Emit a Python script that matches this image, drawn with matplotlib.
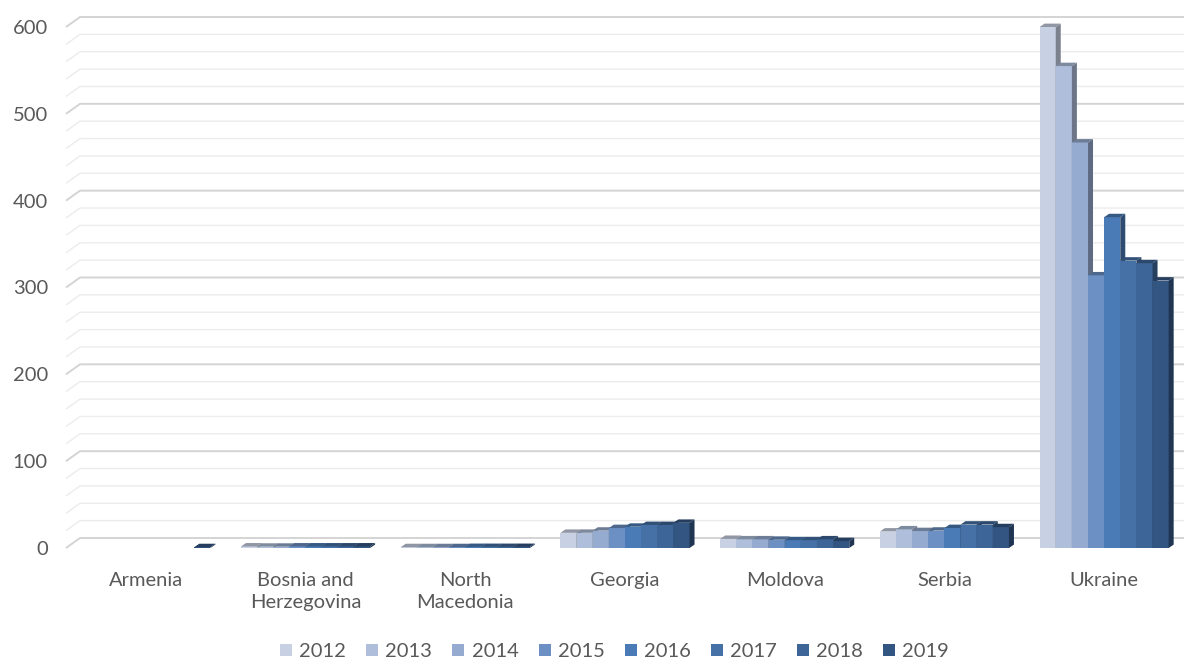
import matplotlib
matplotlib.use("Agg")
import matplotlib.pyplot as plt
from matplotlib.patches import Polygon, Rectangle
import matplotlib.colors as mcolors

plt.rcParams["font.family"] = ["Lato", "DejaVu Sans"]

# Data
countries = ["Armenia", "Bosnia and\nHerzegovina", "North\nMacedonia", "Georgia",
             "Moldova", "Serbia", "Ukraine"]
years = ["2012", "2013", "2014", "2015", "2016", "2017", "2018", "2019"]
values = {
    "2012": [0, 1.8, 1.0, 17.5, 10.5, 19, 600],
    "2013": [0, 1.5, 1.0, 17.5, 10, 21.5, 555],
    "2014": [0, 1.5, 1.0, 20, 10, 19.5, 467],
    "2015": [0, 1.8, 1.0, 23, 9.5, 20, 314],
    "2016": [0, 1.8, 1.2, 24.5, 9, 23, 381],
    "2017": [0, 1.8, 1.2, 26.5, 9, 27, 331],
    "2018": [0, 1.8, 1.2, 26.5, 10, 27, 328],
    "2019": [1.0, 1.8, 1.2, 29, 8, 24, 308],
}
y_ticks = [0, 100, 200, 300, 400, 500, 600]

# Series colours (front faces)
COLORS = ["#c8d1e4", "#afbfdb", "#96abd0", "#6c90c4", "#4a7bb6", "#4571a6",
          "#3d6597", "#335582"]
TEXT = "#595959"
FS = 14.5


def shade(color, factor):
    r, g, b = mcolors.to_rgb(color)
    return (r * factor, g * factor, b * factor)


fig = plt.figure(figsize=(11.84, 6.65), dpi=100)
# 0 at y=548 px, 600 at ~y=27 px
ax = fig.add_axes([66 / 1184, (665 - 548) / 665, 1 - 66 / 1184, 538 / 665])
ymax = 538 / (521 / 600)
ax.set_xlim(-0.5, 6.5)
ax.set_ylim(0, ymax)
for s in ax.spines.values():
    s.set_visible(False)

# pseudo-3D gridlines (back wall + left wall diagonal)
gx, gy = 14 / 159.7, 10 / (521 / 600)
for v in range(0, 601, 20):
    major = v % 100 == 0
    col = "#d4d4d4" if major else "#ececec"
    lw = 1.4 if major else 1.0
    ax.plot([-0.5, -0.5 + gx, 6.5], [v, v + gy, v + gy], color=col, lw=lw,
            zorder=1, clip_on=False, solid_capstyle="butt")

# bars
n = len(years)
bw = 0.101
dx, dy = 5 / 159.7, 3.4 / (521 / 600)
for ci in range(len(countries)):
    start = ci - n * bw / 2
    for yi, yr in enumerate(years):
        v = values[yr][ci]
        if v <= 0:
            continue
        x0 = start + yi * bw
        c = COLORS[yi]
        z = 3 + yi * 0.01
        ax.add_patch(Rectangle((x0, 0), bw, v, facecolor=c, edgecolor="none",
                               zorder=z))
        ax.add_patch(Polygon([(x0 + bw, 0), (x0 + bw + dx, dy), (x0 + bw + dx, v + dy),
                              (x0 + bw, v)], closed=True,
                             facecolor=shade(c, 0.62), edgecolor="none", zorder=z))
        ax.add_patch(Polygon([(x0, v), (x0 + dx, v + dy), (x0 + bw + dx, v + dy),
                              (x0 + bw, v)], closed=True,
                             facecolor=shade(c, 0.72), edgecolor="none", zorder=z))

ax.set_yticks(y_ticks)
ax.set_yticklabels([str(t) for t in y_ticks], fontsize=FS, color=TEXT)
ax.set_xticks(range(len(countries)))
ax.set_xticklabels(countries, fontsize=FS, color=TEXT, linespacing=1.35)
ax.tick_params(axis="both", length=0)
ax.tick_params(axis="y", pad=13)
ax.tick_params(axis="x", pad=17)

handles = [Rectangle((0, 0), 1, 1, facecolor=c) for c in COLORS]
fig.legend(handles, years, loc="lower center", bbox_to_anchor=(0.519, -0.02), ncol=8,
           frameon=False, fontsize=FS, handlelength=0.6, handleheight=0.6,
           handletextpad=0.35, columnspacing=1.0, labelcolor=TEXT)

fig.savefig("out.png", dpi=100, facecolor="white")
